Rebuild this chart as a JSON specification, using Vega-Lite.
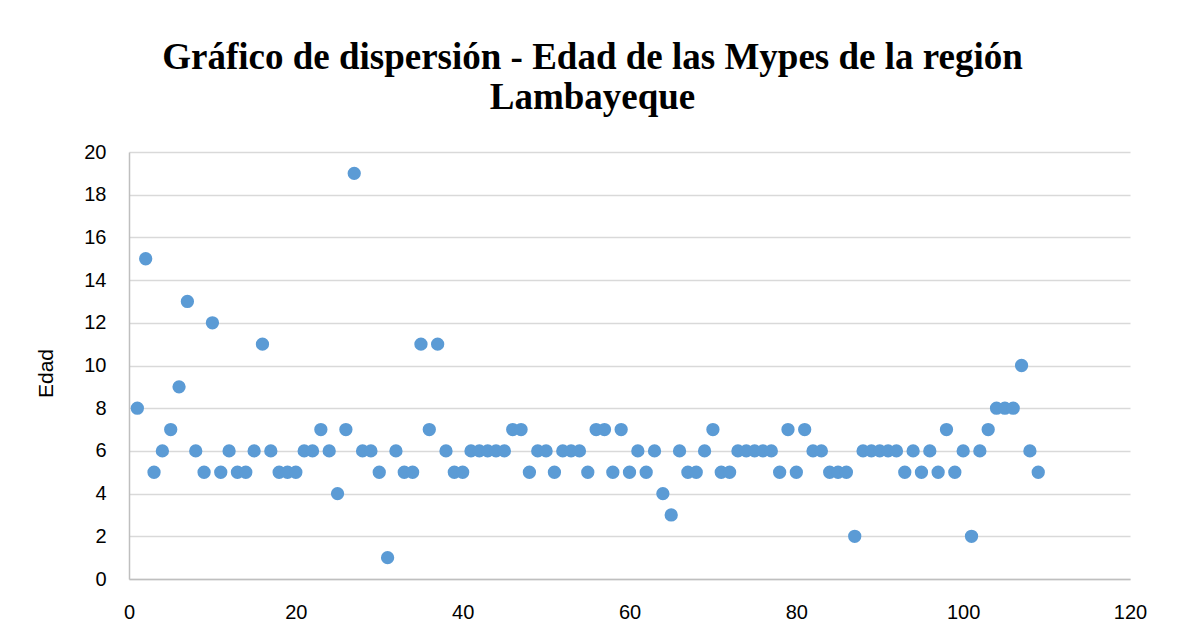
{
  "$schema": "https://vega.github.io/schema/vega-lite/v6.json",
  "width": 1001,
  "height": 427,
  "autosize": {"type": "none"},
  "padding": {"left": 129, "top": 152, "right": 48, "bottom": 54},
  "background": "white",
  "title": {
    "text": ["Gráfico de dispersión - Edad de las Mypes de la región", "Lambayeque"],
    "font": "Liberation Serif",
    "fontSize": 37,
    "fontWeight": "bold",
    "color": "#000000",
    "lineHeight": 40,
    "anchor": "middle",
    "dx": -37,
    "offset": 25
  },
  "data": {
    "values": [
      {"n": 1, "edad": 8}, {"n": 2, "edad": 15}, {"n": 3, "edad": 5}, {"n": 4, "edad": 6}, {"n": 5, "edad": 7},
      {"n": 6, "edad": 9}, {"n": 7, "edad": 13}, {"n": 8, "edad": 6}, {"n": 9, "edad": 5}, {"n": 10, "edad": 12},
      {"n": 11, "edad": 5}, {"n": 12, "edad": 6}, {"n": 13, "edad": 5}, {"n": 14, "edad": 5}, {"n": 15, "edad": 6},
      {"n": 16, "edad": 11}, {"n": 17, "edad": 6}, {"n": 18, "edad": 5}, {"n": 19, "edad": 5}, {"n": 20, "edad": 5},
      {"n": 21, "edad": 6}, {"n": 22, "edad": 6}, {"n": 23, "edad": 7}, {"n": 24, "edad": 6}, {"n": 25, "edad": 4},
      {"n": 26, "edad": 7}, {"n": 27, "edad": 19}, {"n": 28, "edad": 6}, {"n": 29, "edad": 6}, {"n": 30, "edad": 5},
      {"n": 31, "edad": 1}, {"n": 32, "edad": 6}, {"n": 33, "edad": 5}, {"n": 34, "edad": 5}, {"n": 35, "edad": 11},
      {"n": 36, "edad": 7}, {"n": 37, "edad": 11}, {"n": 38, "edad": 6}, {"n": 39, "edad": 5}, {"n": 40, "edad": 5},
      {"n": 41, "edad": 6}, {"n": 42, "edad": 6}, {"n": 43, "edad": 6}, {"n": 44, "edad": 6}, {"n": 45, "edad": 6},
      {"n": 46, "edad": 7}, {"n": 47, "edad": 7}, {"n": 48, "edad": 5}, {"n": 49, "edad": 6}, {"n": 50, "edad": 6},
      {"n": 51, "edad": 5}, {"n": 52, "edad": 6}, {"n": 53, "edad": 6}, {"n": 54, "edad": 6}, {"n": 55, "edad": 5},
      {"n": 56, "edad": 7}, {"n": 57, "edad": 7}, {"n": 58, "edad": 5}, {"n": 59, "edad": 7}, {"n": 60, "edad": 5},
      {"n": 61, "edad": 6}, {"n": 62, "edad": 5}, {"n": 63, "edad": 6}, {"n": 64, "edad": 4}, {"n": 65, "edad": 3},
      {"n": 66, "edad": 6}, {"n": 67, "edad": 5}, {"n": 68, "edad": 5}, {"n": 69, "edad": 6}, {"n": 70, "edad": 7},
      {"n": 71, "edad": 5}, {"n": 72, "edad": 5}, {"n": 73, "edad": 6}, {"n": 74, "edad": 6}, {"n": 75, "edad": 6},
      {"n": 76, "edad": 6}, {"n": 77, "edad": 6}, {"n": 78, "edad": 5}, {"n": 79, "edad": 7}, {"n": 80, "edad": 5},
      {"n": 81, "edad": 7}, {"n": 82, "edad": 6}, {"n": 83, "edad": 6}, {"n": 84, "edad": 5}, {"n": 85, "edad": 5},
      {"n": 86, "edad": 5}, {"n": 87, "edad": 2}, {"n": 88, "edad": 6}, {"n": 89, "edad": 6}, {"n": 90, "edad": 6},
      {"n": 91, "edad": 6}, {"n": 92, "edad": 6}, {"n": 93, "edad": 5}, {"n": 94, "edad": 6}, {"n": 95, "edad": 5},
      {"n": 96, "edad": 6}, {"n": 97, "edad": 5}, {"n": 98, "edad": 7}, {"n": 99, "edad": 5}, {"n": 100, "edad": 6},
      {"n": 101, "edad": 2}, {"n": 102, "edad": 6}, {"n": 103, "edad": 7}, {"n": 104, "edad": 8}, {"n": 105, "edad": 8},
      {"n": 106, "edad": 8}, {"n": 107, "edad": 10}, {"n": 108, "edad": 6}, {"n": 109, "edad": 5}
    ]
  },
  "mark": {"type": "circle", "size": 177, "color": "#5b9bd5", "opacity": 1, "clip": false},
  "encoding": {
    "x": {
      "field": "n",
      "type": "quantitative",
      "scale": {"domain": [0, 120], "nice": false},
      "axis": {
        "title": null,
        "values": [0, 20, 40, 60, 80, 100, 120],
        "grid": false,
        "ticks": false,
        "domainColor": "#bfbfbf",
        "domainWidth": 1.5,
        "labelFont": "Liberation Sans",
        "labelFontSize": 20,
        "labelColor": "#000000",
        "labelPadding": 23,
        "labelFlush": false
      }
    },
    "y": {
      "field": "edad",
      "type": "quantitative",
      "scale": {"domain": [0, 20], "nice": false},
      "axis": {
        "title": "Edad",
        "values": [0, 2, 4, 6, 8, 10, 12, 14, 16, 18, 20],
        "grid": true,
        "gridColor": "#d9d9d9",
        "gridWidth": 1.5,
        "ticks": false,
        "domainColor": "#bfbfbf",
        "domainWidth": 1.5,
        "labelFont": "Liberation Sans",
        "labelFontSize": 20,
        "labelColor": "#000000",
        "labelPadding": 23,
        "titleFont": "Liberation Sans",
        "titleFontSize": 21,
        "titleFontWeight": "normal",
        "titleColor": "#000000",
        "titleAngle": -90,
        "titleAlign": "center",
        "titleBaseline": "middle",
        "titleX": -83,
        "titleY": 221
      }
    }
  },
  "config": {"view": {"stroke": null}}
}
